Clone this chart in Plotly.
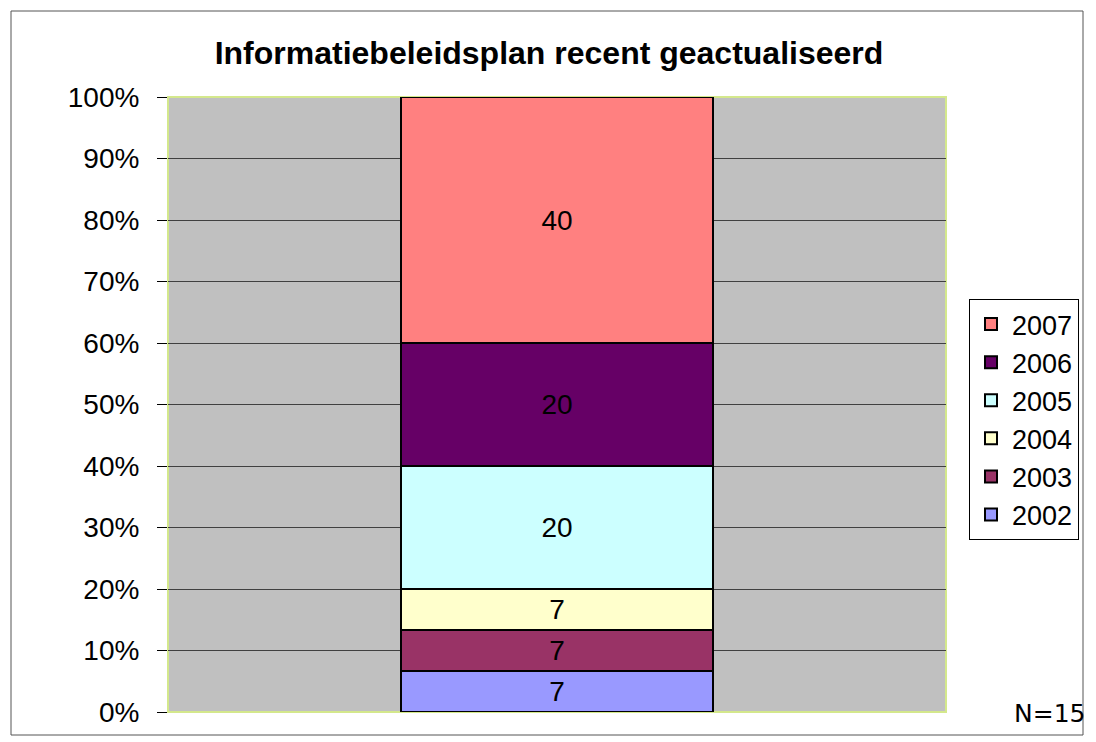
import plotly.graph_objects as go

# Data
category = ["Informatiebeleidsplan recent geactualiseerd"]
years = ["2002", "2003", "2004", "2005", "2006", "2007"]
counts = [1, 1, 1, 3, 3, 6]          # respondents per year (N=15)
labels = ["7", "7", "7", "20", "20", "40"]  # percentage labels shown
colors = ["#9999FF", "#993366", "#FFFFCC", "#CCFFFF", "#660066", "#FF8080"]
y_ticks = [0, 10, 20, 30, 40, 50, 60, 70, 80, 90, 100]
y_tick_text = ["0%", "10%", "20%", "30%", "40%", "50%", "60%", "70%", "80%", "90%", "100%"]
n_label = "N=15"

W, H = 1096, 742
L, R, T, B = 168, 946, 97, 712
FONT = "Liberation Sans, Arial"

fig = go.Figure()
for yr, c, lab, col in zip(years, counts, labels, colors):
    fig.add_trace(go.Bar(
        x=["cat"], y=[c], name=yr, width=0.4,
        marker=dict(color=col, line=dict(color="black", width=2)),
        text=[lab], textposition="inside", insidetextanchor="middle",
        textangle=0, constraintext="none",
        textfont=dict(family=FONT, size=28, color="black"),
        hoverinfo="skip",
    ))

def px(x):
    return (x - L) / (R - L)

def py(y):
    return (B - y) / (B - T)

fig.update_layout(
    width=W, height=H,
    barmode="stack", barnorm="percent",
    paper_bgcolor="white", plot_bgcolor="#C0C0C0",
    margin=dict(l=L, r=W - R, t=T, b=H - B, autoexpand=False),
    font=dict(family=FONT, size=27, color="black"),
    title=dict(text="<b>" + category[0] + "</b>", x=(549) / W, xanchor="center",
               y=(H - 53) / H, yanchor="middle", yref="container",
               font=dict(family=FONT, size=32, color="black")),
    xaxis=dict(showticklabels=False, showgrid=False, zeroline=False,
               range=[-0.5, 0.5], fixedrange=True),
    yaxis=dict(range=[0, 100], tickmode="array", tickvals=y_ticks, ticktext=y_tick_text,
               ticks="outside", ticklen=10, tickcolor="black", tickwidth=1,
               ticklabelstandoff=12,
               showgrid=True, gridcolor="#404040", gridwidth=1,
               zeroline=False, showline=False,
               tickfont=dict(family=FONT, size=28, color="black")),
    legend=dict(traceorder="reversed", x=px(969), y=py(299),
                xanchor="left", yanchor="top",
                bordercolor="black", borderwidth=1, bgcolor="white",
                font=dict(family=FONT, size=27, color="black"),
                itemwidth=32, tracegroupgap=0),
    showlegend=True,
)

# plot area border (light lime)
fig.add_shape(type="rect", xref="paper", yref="paper", x0=0, y0=0, x1=1, y1=1,
              line=dict(color="#D4E88C", width=2), layer="below")
# outer chart border
fig.add_shape(type="rect", xref="paper", yref="paper",
              x0=px(11), y0=py(735), x1=px(1083), y1=py(11),
              line=dict(color="#555555", width=1))

fig.add_annotation(text=n_label, xref="paper", yref="paper",
                   x=px(1087), y=py(713), xanchor="right", yanchor="middle",
                   showarrow=False,
                   font=dict(family="DejaVu Sans, Verdana", size=25, color="black"))

fig.write_html("out.html", config={"displayModeBar": False},
               post_script="document.body.style.margin='0';document.body.style.padding='0';")
